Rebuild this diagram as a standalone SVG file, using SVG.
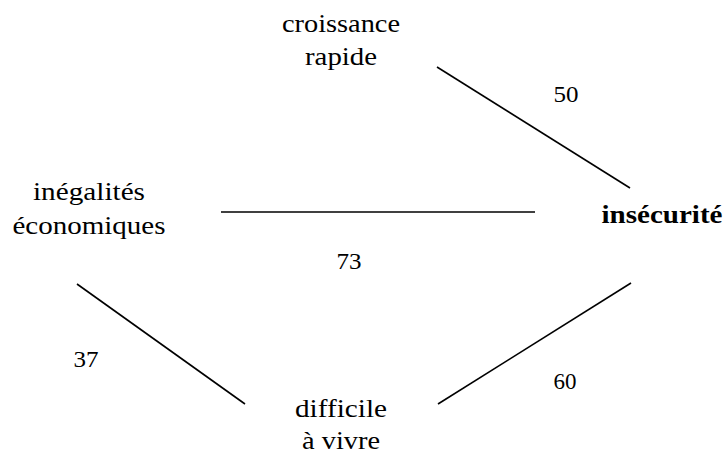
<svg xmlns="http://www.w3.org/2000/svg" width="725" height="453" viewBox="0 0 725 453">
<style>
.t{fill:#000;text-anchor:middle}
.n{font-size:26px}
.b{font-weight:bold}
.w{font-size:23px}
line{stroke:#000;stroke-width:1.6}
</style>
<rect width="725" height="453" fill="#fff"/>
<g font-family="Liberation Serif, DejaVu Serif, serif">
<g id="connectors">
<line x1="437" y1="67" x2="630" y2="188"/>
<line x1="221" y1="212" x2="535" y2="212"/>
<line x1="77" y1="284" x2="245" y2="404"/>
<line x1="438" y1="404" x2="631" y2="283"/>
<text class="t w" x="566" y="102" textLength="25" lengthAdjust="spacingAndGlyphs">50</text>
<text class="t w" x="349" y="269" textLength="25" lengthAdjust="spacingAndGlyphs">73</text>
<text class="t w" x="86" y="367" textLength="25" lengthAdjust="spacingAndGlyphs">37</text>
<text class="t w" x="565" y="389" textLength="23" lengthAdjust="spacingAndGlyphs">60</text>
</g>
<g id="croissance"><text class="t n" x="341" y="32" textLength="118" lengthAdjust="spacingAndGlyphs">croissance</text><text class="t n" x="341" y="65" textLength="72" lengthAdjust="spacingAndGlyphs">rapide</text></g>
<g id="inegalites"><text class="t n" x="89" y="200" textLength="112" lengthAdjust="spacingAndGlyphs">inégalités</text><text class="t n" x="89" y="234" textLength="153" lengthAdjust="spacingAndGlyphs">économiques</text></g>
<g id="insecurite"><text class="t n b" x="662" y="223" textLength="121" lengthAdjust="spacingAndGlyphs">insécurité</text></g>
<g id="difficile"><text class="t n" x="341" y="417" textLength="92" lengthAdjust="spacingAndGlyphs">difficile</text><text class="t n" x="341" y="449" textLength="78" lengthAdjust="spacingAndGlyphs">à vivre</text></g>
</g>
</svg>
